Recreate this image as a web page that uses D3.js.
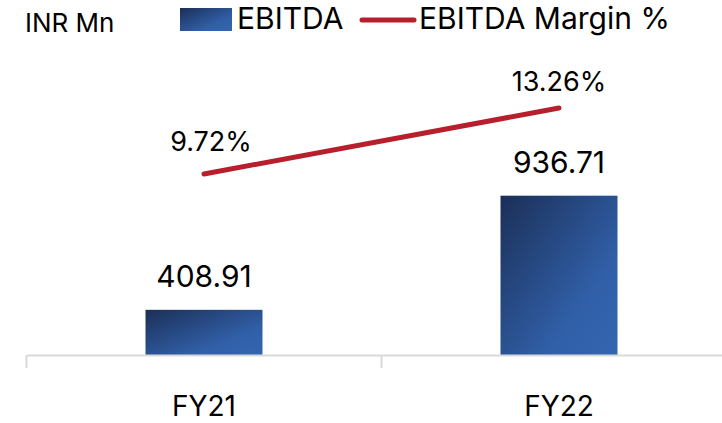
<!DOCTYPE html>
<html>
<head>
<meta charset="utf-8">
<script src="https://cdn.jsdelivr.net/npm/d3@7"></script>
<style>
  body { margin: 0; background: #fff; }
  svg { display: block; font-family: Inter, "Noto Sans", sans-serif; }
</style>
</head>
<body>
<script>
const categories = ["FY21", "FY22"];
const ebitda = [408.91, 936.71];
const margin = [9.72, 13.26];
const ebitdaLabels = ["408.91", "936.71"];
const marginLabels = ["9.72%", "13.26%"];

const width = 722, height = 423;
const svg = d3.select("body").append("svg")
    .attr("width", width)
    .attr("height", height);

const defs = svg.append("defs");
const grad = defs.append("linearGradient")
    .attr("id", "barGrad")
    .attr("x1", "0%").attr("y1", "0%")
    .attr("x2", "100%").attr("y2", "100%");
grad.append("stop").attr("offset", "0%").attr("stop-color", "#1b2f57");
grad.append("stop").attr("offset", "70%").attr("stop-color", "#3160a9");
grad.append("stop").attr("offset", "100%").attr("stop-color", "#3465b0");

const x = d3.scaleBand()
    .domain(categories)
    .range([26.5, 736.5])
    .paddingInner(0)
    .paddingOuter(0);

const barW = 117;
const y = d3.scaleLinear().domain([200, 1000]).range([355, 182]);
const y2 = d3.scaleLinear().domain([0, 16]).range([355, 57]);

// bars
svg.append("g")
  .selectAll("rect")
  .data(categories)
  .join("rect")
    .attr("x", d => x(d) + x.bandwidth() / 2 - barW / 2)
    .attr("y", (d, i) => y(ebitda[i]))
    .attr("width", barW)
    .attr("height", (d, i) => y(200) - y(ebitda[i]))
    .attr("fill", "url(#barGrad)");

// axis
const axis = svg.append("g").attr("transform", "translate(0,355)")
    .call(d3.axisBottom(x).tickSize(0).tickFormat(""));
axis.select(".domain").attr("stroke", "#d9d9d9").attr("stroke-width", 2);
const bounds = [26.5, 26.5 + x.bandwidth(), 26.5 + 2 * x.bandwidth()];
svg.append("g").selectAll("line")
  .data(bounds)
  .join("line")
    .attr("x1", d => d).attr("x2", d => d)
    .attr("y1", 355).attr("y2", 368)
    .attr("stroke", "#d9d9d9").attr("stroke-width", 2);

svg.append("g")
  .selectAll("text")
  .data(categories)
  .join("text")
    .attr("x", d => x(d) + x.bandwidth() / 2)
    .attr("y", 416)
    .attr("text-anchor", "middle")
    .attr("font-size", 28)
    .attr("fill", "#000")
    .text(d => d);

// bar labels
svg.append("g")
  .selectAll("text")
  .data(categories)
  .join("text")
    .attr("x", d => x(d) + x.bandwidth() / 2)
    .attr("y", (d, i) => y(ebitda[i]) - 23)
    .attr("text-anchor", "middle")
    .attr("font-size", 30)
    .attr("fill", "#000")
    .text((d, i) => ebitdaLabels[i]);

// margin line
const line = d3.line()
    .x(d => x(d.c) + x.bandwidth() / 2)
    .y(d => y2(d.v));
svg.append("path")
    .datum(categories.map((c, i) => ({c, v: margin[i]})))
    .attr("d", line)
    .attr("fill", "none")
    .attr("stroke", "#b81f2c")
    .attr("stroke-width", 5)
    .attr("stroke-linecap", "round");

const nudge = [[7, -23], [0, -17]];
svg.append("g")
  .selectAll("text")
  .data(categories)
  .join("text")
    .attr("x", (d, i) => x(d) + x.bandwidth() / 2 + nudge[i][0])
    .attr("y", (d, i) => y2(margin[i]) + nudge[i][1])
    .attr("text-anchor", "middle")
    .attr("font-size", 27)
    .attr("fill", "#000")
    .text((d, i) => marginLabels[i]);

// legend
svg.append("text")
    .attr("x", 25).attr("y", 32)
    .attr("font-size", 26)
    .attr("fill", "#000")
    .text("INR Mn");
svg.append("rect")
    .attr("x", 180).attr("y", 8)
    .attr("width", 52).attr("height", 23)
    .attr("fill", "url(#barGrad)");
svg.append("text")
    .attr("x", 237).attr("y", 29)
    .attr("font-size", 30)
    .attr("fill", "#000")
    .text("EBITDA");
svg.append("line")
    .attr("x1", 362).attr("x2", 414)
    .attr("y1", 20).attr("y2", 20)
    .attr("stroke", "#b81f2c")
    .attr("stroke-width", 5)
    .attr("stroke-linecap", "round");
svg.append("text")
    .attr("x", 419).attr("y", 29)
    .attr("font-size", 30)
    .attr("fill", "#000")
    .text("EBITDA Margin %");
</script>
</body>
</html>
